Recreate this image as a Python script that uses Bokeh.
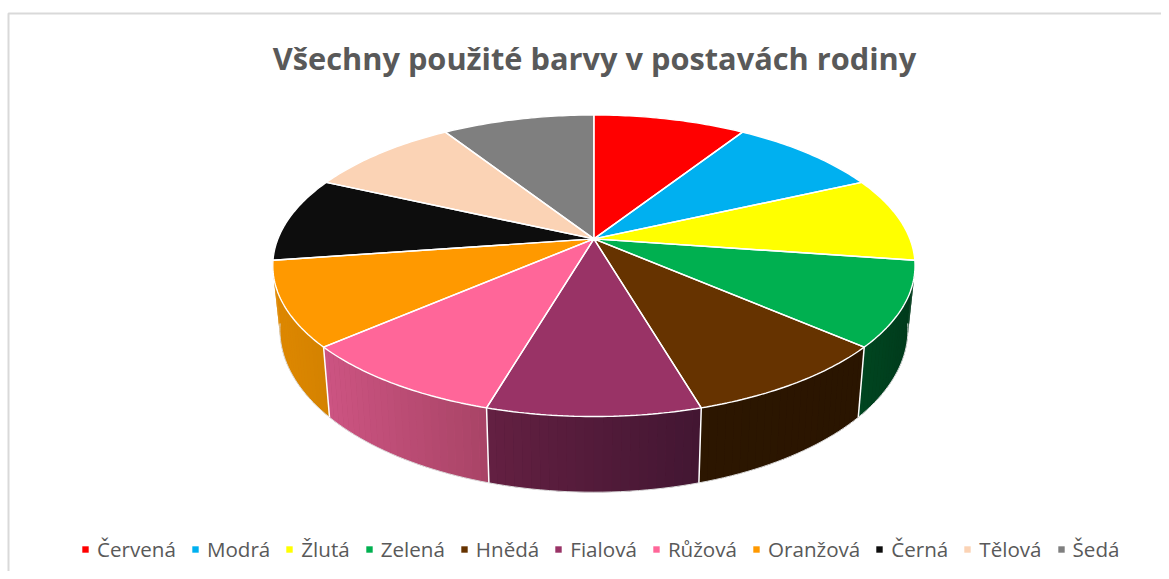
import numpy as np
from bokeh.core.properties import value
from bokeh.embed import file_html
from bokeh.models import Legend, LegendItem, Range1d
from bokeh.plotting import figure
from bokeh.resources import INLINE

title_text = "Všechny použité barvy v postavách rodiny"
categories = ["Červená", "Modrá", "Žlutá", "Zelená", "Hnědá", "Fialová", "Růžová", "Oranžová", "Černá", "Tělová", "Šedá"]
values = [1, 1, 1, 1, 1, 1, 1, 1, 1, 1, 1]
colors = ["#FF0000", "#00B0F0", "#FFFF00", "#00B050", "#663300", "#993366", "#FF6699", "#FF9900", "#0D0D0D", "#FBD3B5", "#7F7F7F"]

# side shading for the slices that show their wall: (left colour, right colour)
side_shades = {
    3: ((0, 70, 32), (0, 58, 28)),
    4: ((44, 22, 0), (42, 21, 0)),
    5: ((100, 32, 66), (66, 22, 50)),
    6: ((205, 84, 130), (168, 68, 102)),
    7: ((222, 136, 0), (212, 130, 0)),
}

# 3D projection of the pie (screen pixels)
CX, CY, AX, BY, P = 593.4, 238.4, 316.0, 146.0, 0.178
SX, SY, DY = 0.978, 1.08, 61.5


def top_xy(theta):
    u = -np.cos(theta)
    d = 1 - P * u
    return AX * np.sin(theta) / d, BY * u / d


def top_pt(theta):
    dx, dy = top_xy(theta)
    return CX + dx, CY + dy


def bot_pt(theta):
    dx, dy = top_xy(theta)
    return CX + SX * dx, CY + SY * dy + DY


W, H = 1161, 571
p = figure(width=W, height=H, output_backend="svg", toolbar_location=None,
           x_range=Range1d(0, W), y_range=Range1d(H, 0),
           x_axis_type=None, y_axis_type=None, min_border=0, outline_line_color=None,
           background_fill_color="white", border_fill_color="white")
p.grid.visible = False

# chart frame
p.line([8, 8, W], [H, 13, 13], line_color="#D9D9D9", line_width=2)

fractions = np.cumsum([0] + values) / sum(values)
angles = fractions * 2 * np.pi

# walls, back to front
for i in [3, 7, 4, 6, 5]:
    a0, a1 = angles[i], angles[i + 1]
    left, right = side_shades[i]
    n = 24
    ts = np.linspace(a0, a1, n + 1)
    tx, ty = top_pt(ts)
    bx, by = bot_pt(ts)
    midcol = "#%02X%02X%02X" % tuple((left[k] + right[k]) // 2 for k in range(3))
    p.patch(np.r_[tx, bx[::-1]], np.r_[ty, by[::-1]], fill_color=midcol, line_color=None)
    x_left, x_right = min(tx[0], tx[-1]), max(tx[0], tx[-1])
    for j in range(n):
        f = ((tx[j] + tx[j + 1]) / 2 - x_left) / (x_right - x_left)
        col = "#%02X%02X%02X" % tuple(int(round(left[k] + (right[k] - left[k]) * f)) for k in range(3))
        p.patch([tx[j], tx[j + 1], bx[j + 1], bx[j]], [ty[j], ty[j + 1], by[j + 1], by[j]],
                fill_color=col, line_color=None)
    # bottom rim
    p.line(bx, by, line_color="#DDDDDD", line_width=1)
for k in [4, 5, 6, 7]:
    x0, y0 = top_pt(angles[k])
    x1, y1 = bot_pt(angles[k])
    p.line([x0, x1], [y0, y1], line_color="white", line_width=1.5)

# top face
renderers = []
for i, c in enumerate(colors):
    ts = np.linspace(angles[i], angles[i + 1], 40)
    rx, ry = top_pt(ts)
    renderers.append(p.patch(np.r_[CX, rx], np.r_[CY, ry], fill_color=c, line_color=None))
for i in range(len(colors)):
    ts = np.linspace(angles[i], angles[i + 1], 40)
    rx, ry = top_pt(ts)
    p.line(np.r_[CX, rx, CX], np.r_[CY, ry, CY], line_color="white", line_width=1.4)

p.text([594], [57.5], text=[title_text], text_font=value("Open Sans"), text_font_style="bold",
       text_font_size="30.75px", text_color="#595959", text_align="center", text_baseline="middle")

legend = Legend(
    items=[LegendItem(label=c, renderers=[r]) for c, r in zip(categories, renderers)],
    orientation="horizontal", location=(81, 8), padding=0, margin=0, spacing=15,
    glyph_width=8, glyph_height=8, label_standoff=8,
    label_text_font="Open Sans", label_text_font_size="20.6px", label_text_color="#595959",
    border_line_color=None, background_fill_alpha=0,
)
p.add_layout(legend, "center")

open("out.html", "w").write(file_html(p, INLINE))
